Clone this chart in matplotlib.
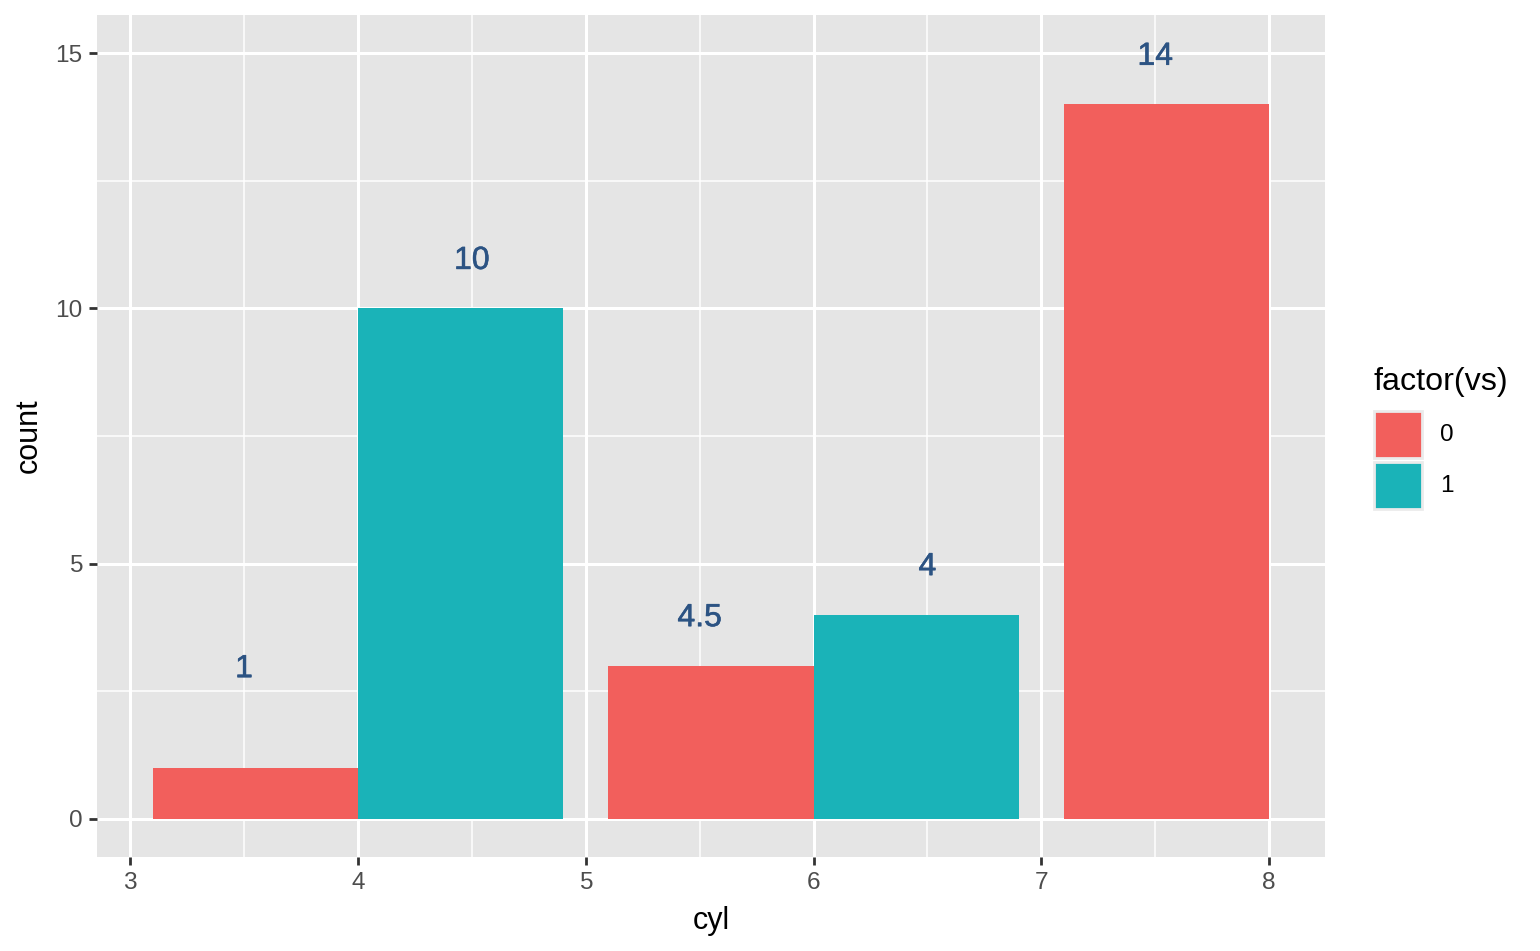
import matplotlib
matplotlib.use('Agg')
import matplotlib.pyplot as plt
from matplotlib.patches import Rectangle
import matplotlib.patheffects as pe

plt.rcParams['font.family'] = ['Liberation Sans', 'DejaVu Sans']

# data
vs0_cyl = [4, 6, 8]
vs0_count = [1, 3, 14]
vs1_cyl = [4, 6]
vs1_count = [10, 4]
label_x = [3.5, 4.5, 5.5, 6.5, 7.5]
label_y = [3, 11, 4, 5, 15]
label_text = ['1', '10', '4.5', '4', '14']
x_ticks = [3, 4, 5, 6, 7, 8]
y_ticks = [0, 5, 10, 15]
legend_labels = ['0', '1']

red = '#F25F5C'
teal = '#1AB3B8'


def main():
    W, H = 1540, 951
    fig = plt.figure(figsize=(7.7, 4.755), dpi=200)
    ax = fig.add_axes([0.063, 0.0988, 0.7974, 0.8854])
    ax.set_facecolor('#E5E5E5')

    w = 0.9
    ax.bar([c - w / 2 for c in vs0_cyl], vs0_count, width=w, color=red, zorder=3)
    ax.bar([c + w / 2 for c in vs1_cyl], vs1_count, width=w, color=teal, zorder=3)

    for x, y, t in zip(label_x, label_y, label_text):
        ax.text(x, y, t, ha='center', va='center_baseline', fontsize=11.5,
                color='#2C5383', zorder=4,
                path_effects=[pe.withStroke(linewidth=0.2, foreground='#2C5383')])

    ax.set_xlim(2.855, 8.245)
    ax.set_ylim(-0.75, 15.75)
    ax.set_xticks(x_ticks)
    ax.set_yticks(y_ticks)
    ax.set_xticks([3.5, 4.5, 5.5, 6.5, 7.5], minor=True)
    ax.set_yticks([2.5, 7.5, 12.5], minor=True)
    ax.grid(which='major', color='white', linewidth=1.1, zorder=1)
    ax.grid(which='minor', color='white', linewidth=0.55, zorder=1)
    ax.set_axisbelow(True)
    for s in ax.spines.values():
        s.set_visible(False)
    ax.tick_params(which='major', length=2.75, width=1.0, color='#333333',
                   labelsize=8.8, labelcolor='#4D4D4D', pad=2.5)
    ax.tick_params(which='minor', length=0)
    ax.set_xlabel('cyl', fontsize=11, labelpad=4.5)
    ax.set_ylabel('count', fontsize=11, labelpad=4)

    # legend drawn by hand, ggplot style
    fig.text(1373 / W, 1 - 382 / H, 'factor(vs)', fontsize=11.6,
             ha='left', va='center')
    key_tops = [411, 462]
    for top, col, lab in zip(key_tops, [red, teal], legend_labels):
        fig.add_artist(Rectangle((1374 / W, 1 - (top + 47) / H), 48 / W, 47 / H,
                                 transform=fig.transFigure, facecolor=col,
                                 edgecolor='#EBEBEB', linewidth=1.0))
        fig.text(1440 / W, 1 - (top + 24) / H, lab, fontsize=8.8,
                 ha='left', va='center')

    fig.savefig('out.png', dpi=200)


if __name__ == '__main__':
    main()
